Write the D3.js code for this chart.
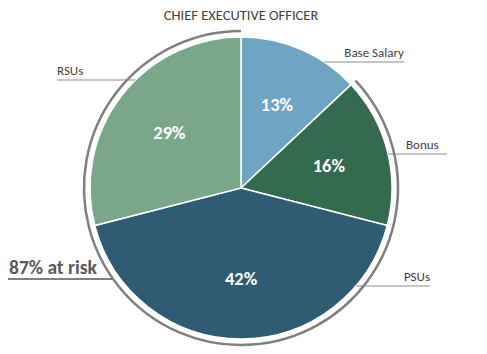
<!DOCTYPE html>
<html>
<head>
  <meta charset="utf-8">
  <title>Chief Executive Officer pay mix</title>
  <script src="https://cdn.jsdelivr.net/npm/d3@7"></script>
  <style>
    body { margin: 0; background: #fff; }
    text { font-family: Calibri, Carlito, Lato, "Open Sans", sans-serif; }
  </style>
</head>
<body>
  <script>
    const categories = ["Base Salary", "Bonus", "PSUs", "RSUs"]
    const values = [13, 16, 42, 29]
    const colors = ["#6fa5c2", "#346a4f", "#2f5c73", "#7aa78a"]
    const atRiskLabel = "87% at risk"
    const atRiskFrom = 1 // at-risk arc covers Bonus..RSUs

    const width = 487, height = 354
    const cx = 241, cy = 188, radius = 151, riskRadius = 157

    // label layout: leader y, text x, anchor, line end x
    const labelLayout = [
      { y: 62, tx: 404, anchor: "end", lineEnd: 404 },
      { y: 154, tx: 406, anchor: "start", lineEnd: 447 },
      { y: 286, tx: 430, anchor: "end", lineEnd: 430 },
      { y: 80, tx: 57, anchor: "start", lineEnd: 57 }
    ]

    const svg = d3.select("body").append("svg")
      .attr("width", width)
      .attr("height", height)

    svg.append("text")
      .attr("x", cx)
      .attr("y", 20)
      .attr("text-anchor", "middle")
      .attr("font-size", 14.5)
      .attr("fill", "#404040")
      .text("CHIEF EXECUTIVE OFFICER")

    const pie = d3.pie().sort(null).value(d => d)
    const arcs = pie(values)
    const arc = d3.arc().innerRadius(0).outerRadius(radius)

    const g = svg.append("g").attr("transform", `translate(${cx},${cy})`)

    g.selectAll("path.slice")
      .data(arcs)
      .enter()
      .append("path")
      .attr("class", "slice")
      .attr("d", arc)
      .attr("fill", (d, i) => colors[i])
      .attr("stroke", "#fff")
      .attr("stroke-width", 1.5)

    // percentage labels
    const labelArc = d3.arc().innerRadius(radius * 0.6).outerRadius(radius * 0.6)
    g.selectAll("text.pct")
      .data(arcs)
      .enter()
      .append("text")
      .attr("class", "pct")
      .attr("transform", d => `translate(${labelArc.centroid(d)})`)
      .attr("dy", "0.35em")
      .attr("text-anchor", "middle")
      .attr("font-size", 18.5)
      .attr("font-weight", "bold")
      .attr("fill", "#fff")
      .text(d => d.data + "%")

    // at-risk outline arc
    const riskArc = d3.arc()
      .innerRadius(riskRadius)
      .outerRadius(riskRadius)
      .startAngle(arcs[atRiskFrom].startAngle)
      .endAngle(arcs[arcs.length - 1].endAngle)
    g.append("path")
      .attr("d", riskArc())
      .attr("fill", "none")
      .attr("stroke", "#7f7f7f")
      .attr("stroke-width", 2.5)

    // category leader lines
    categories.forEach((c, i) => {
      const L = labelLayout[i]
      const dy = L.y - cy
      const dx = Math.sqrt(radius * radius - dy * dy)
      const edgeX = L.tx < cx ? cx - dx : cx + dx
      svg.append("line")
        .attr("x1", edgeX)
        .attr("x2", L.lineEnd)
        .attr("y1", L.y)
        .attr("y2", L.y)
        .attr("stroke", "#8c8c8c")
        .attr("stroke-width", 1.2)
      svg.append("text")
        .attr("x", L.tx)
        .attr("y", L.y - 5)
        .attr("text-anchor", L.anchor)
        .attr("font-size", 13)
        .attr("fill", "#404040")
        .text(c)
    })

    // 87% at risk label
    const riskY = 279
    const rdy = riskY - cy
    const rdx = Math.sqrt(riskRadius * riskRadius - rdy * rdy)
    svg.append("line")
      .attr("x1", 8)
      .attr("x2", cx - rdx)
      .attr("y1", riskY)
      .attr("y2", riskY)
      .attr("stroke", "#7f7f7f")
      .attr("stroke-width", 1.8)
    svg.append("text")
      .attr("x", 9)
      .attr("y", riskY - 5)
      .attr("font-size", 19.5)
      .attr("font-weight", "bold")
      .attr("fill", "#595959")
      .text(atRiskLabel)
  </script>
</body>
</html>
